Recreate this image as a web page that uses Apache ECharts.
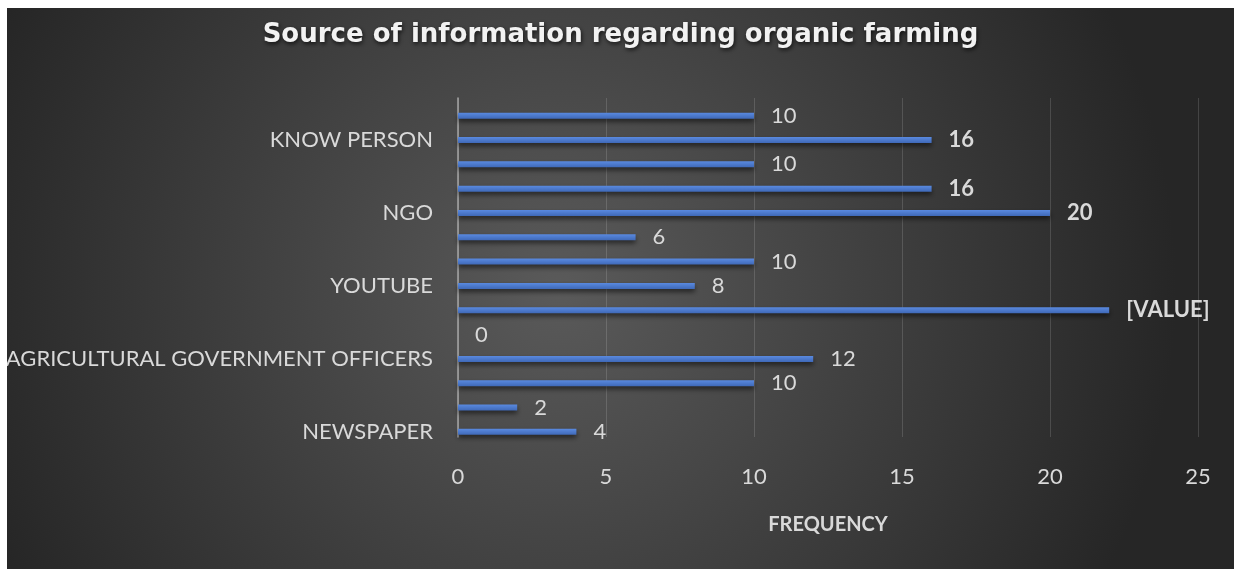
<!DOCTYPE html>
<html>
<head>
<meta charset="utf-8">
<title>Source of information regarding organic farming</title>
<script src="https://cdn.jsdelivr.net/npm/echarts@6/dist/echarts.min.js"></script>
<style>
  html, body { margin: 0; padding: 0; background: #fff; }
  #infoChart { position: absolute; left: 7px; top: 8px; width: 1227px; height: 561px; }
</style>
</head>
<body>
<div id="infoChart"></div>
<script>
// bottom to top, as Excel draws a bar chart; only every third name is printed
var categories = ['NEWSPAPER', '', '', 'AGRICULTURAL GOVERNMENT OFFICERS', '', '', 'YOUTUBE', '', '', 'NGO', '', '', 'KNOW PERSON', ''];
var frequency = [4, 2, 10, 12, 0, 22, 8, 10, 6, 20, 16, 10, 16, 10];
var labelText = ['4', '2', '10', '12', '0', '[VALUE]', '8', '10', '6', '20', '16', '10', '16', '10'];
var labelBold = [false, false, false, false, false, true, false, false, false, true, true, false, true, false];
var xTicks = [0, 5, 10, 15, 20, 25];

var font = 'Lato';
var textColor = '#d9d9d9';

var barData = frequency.map(function (v, i) {
    return { value: v, label: { fontWeight: labelBold[i] ? 'bold' : 'normal' } };
});

var option = {
    backgroundColor: new echarts.graphic.RadialGradient(0.45, 0.5, 1.1, [
        { offset: 0, color: '#5a5a5a' },
        { offset: 1, color: '#262626' }
    ]),
    title: {
        text: 'Source of information regarding organic farming',
        left: 'center',
        top: 9,
        textStyle: {
            fontFamily: 'DejaVu Sans',
            fontWeight: 'bold',
            fontSize: 26,
            color: '#f2f2f2',
            textShadowColor: 'rgba(0,0,0,0.7)',
            textShadowBlur: 4,
            textShadowOffsetX: 1,
            textShadowOffsetY: 2
        }
    },
    grid: [
        // frame: gridlines, axis line, tick labels
        { left: 451, right: 36, top: 90, bottom: 132, outerBoundsMode: 'none' },
        // bars and category names
        { left: 451, right: 36, top: 95.5, bottom: 125, outerBoundsMode: 'none' }
    ],
    xAxis: [{
        gridIndex: 0,
        type: 'value',
        min: xTicks[0],
        max: xTicks[xTicks.length - 1],
        interval: xTicks[1] - xTicks[0],
        name: 'FREQUENCY',
        nameLocation: 'middle',
        nameGap: 78,
        nameTextStyle: { fontFamily: font, fontWeight: 'bold', fontSize: 20, color: textColor },
        axisLine: { show: false },
        axisTick: { show: false },
        axisLabel: { margin: 29, fontFamily: font, fontSize: 22, color: textColor },
        splitLine: { lineStyle: { color: 'rgba(255,255,255,0.14)', width: 1 } }
    }, {
        gridIndex: 1,
        type: 'value',
        min: xTicks[0],
        max: xTicks[xTicks.length - 1],
        show: false
    }],
    yAxis: [{
        gridIndex: 0,
        type: 'category',
        data: categories,
        axisLine: { lineStyle: { color: '#a6a6a6', width: 1.5 } },
        axisTick: { show: false },
        axisLabel: { show: false },
        splitLine: { show: false }
    }, {
        gridIndex: 1,
        type: 'category',
        data: categories,
        axisLine: { show: false },
        axisTick: { show: false },
        axisLabel: { interval: 2, margin: 25, fontFamily: font, fontSize: 22, color: textColor },
        splitLine: { show: false }
    }],
    series: [{
        name: 'FREQUENCY',
        type: 'bar',
        xAxisIndex: 1,
        yAxisIndex: 1,
        barWidth: 6,
        data: barData,
        itemStyle: {
            color: new echarts.graphic.LinearGradient(0, 0, 0, 1, [
                { offset: 0, color: '#5a8ae0' },
                { offset: 1, color: '#3f69b8' }
            ]),
            shadowColor: 'rgba(0,0,0,0.55)',
            shadowBlur: 5,
            shadowOffsetY: 3
        },
        label: {
            show: true,
            position: 'right',
            distance: 17,
            fontFamily: font,
            fontSize: 22,
            color: textColor,
            formatter: function (p) { return labelText[p.dataIndex]; }
        }
    }]
};

var mychart = echarts.init(document.getElementById('infoChart'));
mychart.setOption(option);
</script>
</body>
</html>
